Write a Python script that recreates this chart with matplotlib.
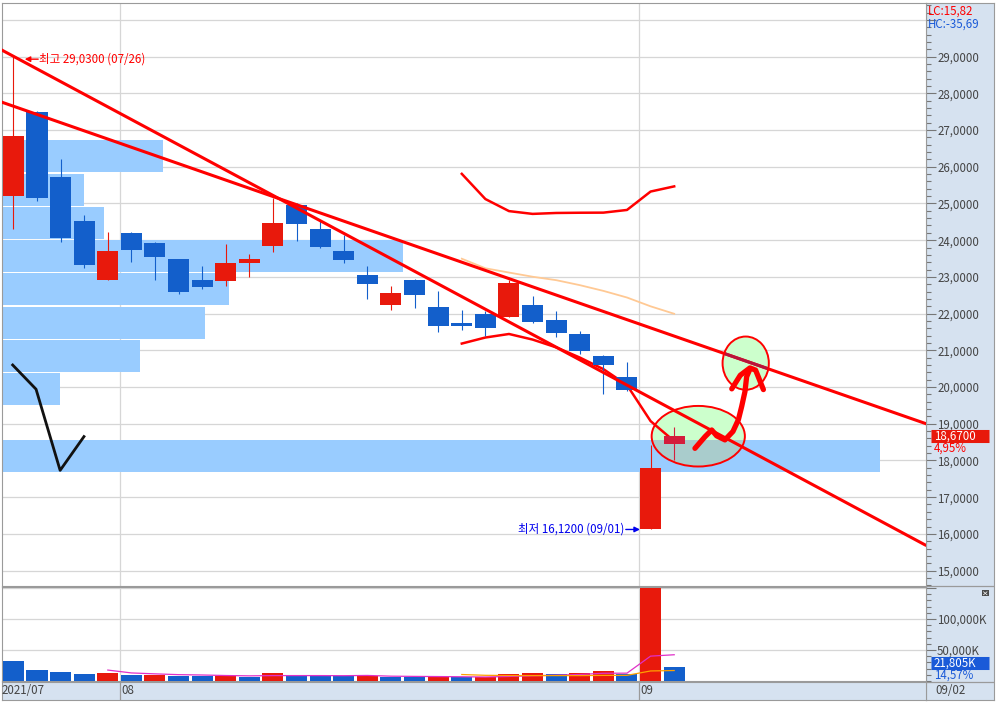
import numpy as np
import pandas as pd
import matplotlib
matplotlib.use('Agg')
import matplotlib.pyplot as plt
from matplotlib import font_manager
from matplotlib.patches import Ellipse, Rectangle
from matplotlib.ticker import FixedLocator, MultipleLocator, FuncFormatter
from matplotlib.transforms import blended_transform_factory

_have = {f.name for f in font_manager.fontManager.ttflist}
if 'Liberation Sans Narrow' in _have:
    NUM_FONT, FS = 'Liberation Sans Narrow', 9.5
else:
    NUM_FONT, FS = 'Noto Sans CJK KR', 8.3
plt.rcParams['font.family'] = [NUM_FONT, 'Noto Sans CJK KR', 'DejaVu Sans']

# ---- daily candles ----
dates = ['2021-07-26', '2021-07-27', '2021-07-28', '2021-07-29', '2021-07-30',
         '2021-08-02', '2021-08-03', '2021-08-04', '2021-08-05', '2021-08-06',
         '2021-08-09', '2021-08-10', '2021-08-11', '2021-08-12', '2021-08-13',
         '2021-08-16', '2021-08-17', '2021-08-18', '2021-08-19', '2021-08-20',
         '2021-08-23', '2021-08-24', '2021-08-25', '2021-08-26', '2021-08-27',
         '2021-08-30', '2021-08-31', '2021-09-01', '2021-09-02']
opens = [25.20, 27.49, 25.71, 24.52, 22.92, 24.19, 23.92, 23.48, 22.91, 22.89,
         23.39, 23.84, 24.95, 24.30, 23.70, 23.05, 22.23, 22.91, 22.18, 21.74,
         21.99, 21.92, 22.23, 21.82, 21.44, 20.84, 20.27, 16.12, 18.45]
highs = [29.03, 27.53, 26.20, 24.68, 24.22, 24.22, 23.95, 23.48, 23.30, 23.89,
         23.62, 25.14, 25.02, 24.52, 24.13, 23.30, 22.76, 22.95, 22.61, 22.10,
         22.07, 22.92, 22.48, 22.07, 21.52, 20.87, 20.69, 18.43, 18.92]
lows = [24.30, 25.07, 23.95, 23.23, 22.92, 23.41, 22.92, 22.52, 22.67, 22.76,
        23.01, 23.68, 23.98, 23.79, 23.39, 22.40, 22.10, 22.14, 21.49, 21.56,
        21.40, 21.90, 21.74, 21.37, 20.90, 19.81, 19.90, 16.12, 18.00]
closes = [26.83, 25.15, 24.06, 23.33, 23.70, 23.74, 23.54, 22.59, 22.73, 23.37,
          23.48, 24.46, 24.44, 23.82, 23.46, 22.81, 22.56, 22.51, 21.67, 21.65,
          21.61, 22.83, 21.78, 21.46, 20.99, 20.61, 19.93, 17.79, 18.67]

# volume in K shares, and whether the bar is drawn red (volume rose)
volumes = [32258, 17700, 14500, 10800, 12900, 9200, 10200, 8100, 8050, 8600,
           6500, 12400, 8100, 8000, 7900, 8400, 6500, 6400, 6600, 6300,
           6500, 10800, 12400, 10700, 12300, 16100, 11800, 149660, 21805]
vol_up = [0, 0, 0, 0, 1, 0, 1, 0, 0, 1, 0, 1, 0, 0, 0, 1, 0, 0, 1, 0,
          1, 1, 1, 0, 1, 1, 0, 1, 0]

# price-by-volume profile (bin bottoms, bin size, share of panel width in %)
prof_lo = [17.68, 18.59, 19.49, 20.40, 21.30, 22.21, 23.11, 24.02, 24.92, 25.83]
prof_bin = 0.905
prof_pct = [95.0, 0.0, 6.3, 14.9, 22.0, 24.6, 43.4, 11.0, 8.9, 17.4]

# hand-drawn annotations (bar index, price)
trend_steep_x, trend_steep_y = [-0.496, 38.63], [29.18, 15.70]
trend_flat_x, trend_flat_y = [-0.496, 38.63], [27.76, 19.01]
check_x = [-0.03, 0.96, 1.98, 2.99]
check_y = [20.60, 19.94, 17.73, 18.65]
ell_low = (29.02, 18.66, 3.95, 1.65)
ell_high = (31.03, 20.65, 1.96, 1.45)
stroke_x = [28.88, 29.31, 29.59, 29.80, 30.15, 30.49, 30.72, 30.86, 31.00, 31.07, 31.21]
stroke_y = [18.33, 18.65, 18.83, 18.67, 18.56, 18.79, 19.11, 19.47, 19.88, 20.28, 20.49]
head_x = [30.44, 30.80, 31.21, 31.45, 31.78]
head_y = [19.95, 20.32, 20.52, 20.46, 19.93]

lc_text, hc_text = 'LC:15,82', 'HC:-35,69'

UP, DOWN, LIVE = '#e8190c', '#135fcb', '#d41c3c'
BAND, OVERLAP, GREEN = '#99ccff', '#a9cccc', '#ccffcc'
GRID, PANEL, EDGE, TXT = '#d6d6d6', '#d6e2f0', '#9a9a9a', '#444444'


def comma(v, nd=4):
    return f'{v:.{nd}f}'.replace('.', ',')


W, H = 996, 703
fig = plt.figure(figsize=(W / 100, H / 100), dpi=100)


def px_axes(x0, y0, x1, y1, **kw):
    return fig.add_axes([x0 / W, 1 - y1 / H, (x1 - x0) / W, (y1 - y0) / H], **kw)


panel = px_axes(926, 3, 994, 700, zorder=0)
panel.set_facecolor(PANEL)
panel.set_xlim(0, 68)
panel.set_ylim(700, 3)
panel.set_xticks([])
panel.set_yticks([])
for s in panel.spines.values():
    s.set_color(EDGE)
panel.axhline(586.5, color=EDGE, lw=0.9)
panel.axhline(682, color=EDGE, lw=0.9)

ax = px_axes(2, 3, 926, 586, zorder=2)
axv = px_axes(2, 587, 926, 681, zorder=2)
axd = px_axes(2, 682, 926, 700, zorder=2)
ov = px_axes(926, 3, 994, 700, zorder=6)
ov.set_xlim(0, 68)
ov.set_ylim(700, 3)
ov.axis('off')

n = len(closes)
x = np.arange(n)
xlim = (-0.483, 38.67)
o, h, l, c = map(np.array, (opens, highs, lows, closes))

# ---- price panel ----
ax.set_xlim(*xlim)
ax.set_ylim(14.58, 30.46)
months = [d[:7] for d in dates]
bounds = [i - 0.5 for i in range(1, n) if months[i] != months[i - 1]]
for b in bounds:
    ax.axvline(b, color=GRID, lw=0.9, zorder=0.5)
ax.yaxis.tick_right()
ax.yaxis.set_major_locator(FixedLocator(range(15, 31)))
ax.yaxis.set_minor_locator(MultipleLocator(0.2))
ax.yaxis.set_major_formatter(FuncFormatter(lambda v, p: '' if v > 29.5 else comma(v)))
ax.grid(axis='y', which='major', color=GRID, lw=0.9, zorder=0.5)
ax.set_axisbelow(True)
ax.tick_params(axis='y', which='major', direction='out', length=7, width=0.8,
               color='#777777', pad=1, labelsize=FS, labelcolor=TXT)
ax.tick_params(axis='y', which='minor', direction='out', length=3.5, width=0.8, color='#777777')
ax.tick_params(axis='x', which='both', bottom=False, labelbottom=False)
for s in ax.spines.values():
    s.set_color(EDGE)

span = xlim[1] - xlim[0]
ax.barh([p + prof_bin / 2 for p in prof_lo], [v / 100 * span for v in prof_pct],
        left=xlim[0], height=prof_bin * 0.965, color=BAND, zorder=1)

e_lo = Ellipse(ell_low[:2], ell_low[2], ell_low[3], facecolor=GREEN, edgecolor='none', zorder=2)
e_hi = Ellipse(ell_high[:2], ell_high[2], ell_high[3], facecolor=GREEN, edgecolor='none', zorder=2)
ax.add_patch(e_lo)
ax.add_patch(e_hi)
for p, v in zip(prof_lo, prof_pct):
    r = Rectangle((xlim[0], p + prof_bin * 0.0175), v / 100 * span, prof_bin * 0.965,
                  facecolor=OVERLAP, edgecolor='none', zorder=2.1)
    ax.add_patch(r)
    r.set_clip_path(e_lo)

# bollinger (20, 2) and its middle line
s = pd.Series(closes)
mid = s.rolling(20).mean()
sd = s.rolling(20).std(ddof=0)
ax.plot(x, mid, color='#ffc994', lw=1.3, zorder=3)
ax.plot(x, mid + 2 * sd, color='#ff0000', lw=1.8, zorder=3)
ax.plot(x, mid - 2 * sd, color='#ff0000', lw=1.8, zorder=3)

cols = [UP if cc >= oo else DOWN for oo, cc in zip(opens, closes)]
cols[-1] = LIVE
ax.vlines(x, l, h, colors=cols, lw=0.8, zorder=4)
ax.bar(x, np.maximum(np.abs(c - o), 0.04), bottom=np.minimum(o, c), width=0.89,
       color=cols, zorder=4)

ax.plot(trend_steep_x, trend_steep_y, color='#ff0000', lw=2.2, zorder=5)
ax.plot(trend_flat_x, trend_flat_y, color='#ff0000', lw=2.2, zorder=5)
tint, = ax.plot(trend_flat_x, trend_flat_y, color='#b8143c', lw=2.2, zorder=5.1)
tint.set_clip_path(e_hi)
ax.plot(check_x, check_y, color='#111111', lw=2.0, zorder=5)

for e in (ell_low, ell_high):
    ax.add_patch(Ellipse(e[:2], e[2], e[3], facecolor='none', edgecolor='#ff0000',
                         lw=1.4, zorder=6))
ax.plot(stroke_x, stroke_y, color='#ff0000', lw=3.8, solid_capstyle='round',
        solid_joinstyle='round', zorder=7)
ax.plot(head_x, head_y, color='#ff0000', lw=3.8, solid_capstyle='round',
        solid_joinstyle='round', zorder=7)

ih, il = int(np.argmax(h)), int(np.argmin(l))
yh = h[ih] - 0.1
ax.annotate('', xy=(ih + 0.48, yh), xytext=(ih + 1.05, yh),
            arrowprops=dict(arrowstyle='-|>', color='#ff0000', lw=1, mutation_scale=8,
                            shrinkA=0, shrinkB=0), zorder=8)
ax.text(ih + 1.07, yh, f'최고 {comma(h[ih])} ({dates[ih][5:7]}/{dates[ih][8:]})',
        color='#ff0000', fontsize=FS, va='center', ha='left', zorder=8)
ax.annotate('', xy=(il - 0.45, l[il]), xytext=(il - 1.05, l[il]),
            arrowprops=dict(arrowstyle='-|>', color='#0000ee', lw=1, mutation_scale=8,
                            shrinkA=0, shrinkB=0), zorder=8)
ax.text(il - 1.1, l[il], f'최저 {comma(l[il])} ({dates[il][5:7]}/{dates[il][8:]})',
        color='#0000ee', fontsize=FS, va='center', ha='right', zorder=8)

# ---- volume panel ----
axv.set_xlim(*xlim)
axv.set_ylim(0, 151600)
for b in bounds:
    axv.axvline(b, color=GRID, lw=0.9, zorder=0.5)
vcols = [UP if u else DOWN for u in vol_up]
axv.bar(x, volumes, width=0.89, color=vcols, zorder=3)
vs = pd.Series(volumes)
axv.plot(x, vs.rolling(5).mean(), color='#e030c8', lw=0.9, zorder=4)
axv.plot(x, vs.rolling(20).mean(), color='#ffa000', lw=0.9, zorder=4)
axv.yaxis.tick_right()
axv.yaxis.set_major_locator(FixedLocator([50000, 100000, 150000]))
axv.yaxis.set_minor_locator(MultipleLocator(10000))
axv.yaxis.set_major_formatter(FuncFormatter(lambda v, p: '' if v > 120000 else f'{v:,.0f}K'))
axv.grid(axis='y', which='major', color=GRID, lw=0.9, zorder=0.5)
axv.set_axisbelow(True)
axv.tick_params(axis='y', which='major', direction='out', length=7, width=0.8,
                color='#777777', pad=1, labelsize=FS, labelcolor=TXT)
axv.tick_params(axis='y', which='minor', direction='out', length=3.5, width=0.8, color='#777777')
axv.tick_params(axis='x', which='both', bottom=False, labelbottom=False)
for sp in axv.spines.values():
    sp.set_color(EDGE)

# ---- date strip ----
axd.set_xlim(*xlim)
axd.set_ylim(0, 1)
axd.set_facecolor(PANEL)
axd.set_xticks([])
axd.set_yticks([])
for sp in axd.spines.values():
    sp.set_color(EDGE)
axd.text(xlim[0], 0.5, f'{dates[0][:4]}/{dates[0][5:7]}', color=TXT, fontsize=FS,
         va='center', ha='left', transform=blended_transform_factory(axd.transData, axd.transAxes))
for b in bounds:
    axd.axvline(b, color=EDGE, lw=0.9)
    axd.annotate(dates[int(b + 0.5)][5:7], xy=(b, 0.5), xycoords=('data', 'axes fraction'),
                 xytext=(1.2, 0), textcoords='offset points', color=TXT, fontsize=FS,
                 va='center', ha='left')

# ---- right panel texts ----
ov.text(1.5, 11, lc_text, color='#ff0000', fontsize=FS, va='center', ha='left')
ov.text(1.5, 24, hc_text, color='#1a5ad8', fontsize=FS, va='center', ha='left')
ov.text(9, 691, f'{dates[-1][5:7]}/{dates[-1][8:]}', color=TXT, fontsize=FS,
        va='center', ha='left')

tp = blended_transform_factory(ov.transData, ax.transData)
ov.plot([5, 63], [c[-1], c[-1]], color=UP, lw=9.4, solid_capstyle='butt', transform=tp)
ov.text(8, c[-1], comma(c[-1]), color='white', fontsize=FS, va='center', ha='left', transform=tp)
chg = (c[-1] / c[-2] - 1) * 100
ov.annotate(f'{comma(chg, 2)}%', xy=(8, c[-1]), xycoords=tp, xytext=(0, -8.6),
            textcoords='offset points', color='#ff0000', fontsize=FS, va='center', ha='left')

tv = blended_transform_factory(ov.transData, axv.transData)
ov.annotate('', xy=(5, volumes[-1]), xycoords=tv, xytext=(63, volumes[-1]),
            textcoords=tv, arrowprops=dict(arrowstyle='-', color='none'))
ov.plot([5, 63], [volumes[-1], volumes[-1]], color='#1a5ad8', lw=9.4,
        solid_capstyle='butt', transform=tv + matplotlib.transforms.ScaledTranslation(0, 3.4 / 72, fig.dpi_scale_trans))
ov.annotate(f'{volumes[-1]:,}K', xy=(8, volumes[-1]), xycoords=tv, xytext=(0, 3.4),
            textcoords='offset points', color='white', fontsize=FS, va='center', ha='left')
share = volumes[-1] / max(volumes) * 100
ov.annotate(f'{comma(share, 2)}%', xy=(8, volumes[-1]), xycoords=tv, xytext=(0, -5.6),
            textcoords='offset points', color='#1a5ad8', fontsize=FS, va='center', ha='left')

ov.add_patch(Rectangle((56, 590.5), 6.5, 5.5, facecolor='#4a4a4a', edgecolor='none'))
ov.plot([57.5, 61], [591.8, 594.8], color='white', lw=0.5)
ov.plot([57.5, 61], [594.8, 591.8], color='white', lw=0.5)

fig.savefig('out.png', dpi=100)
